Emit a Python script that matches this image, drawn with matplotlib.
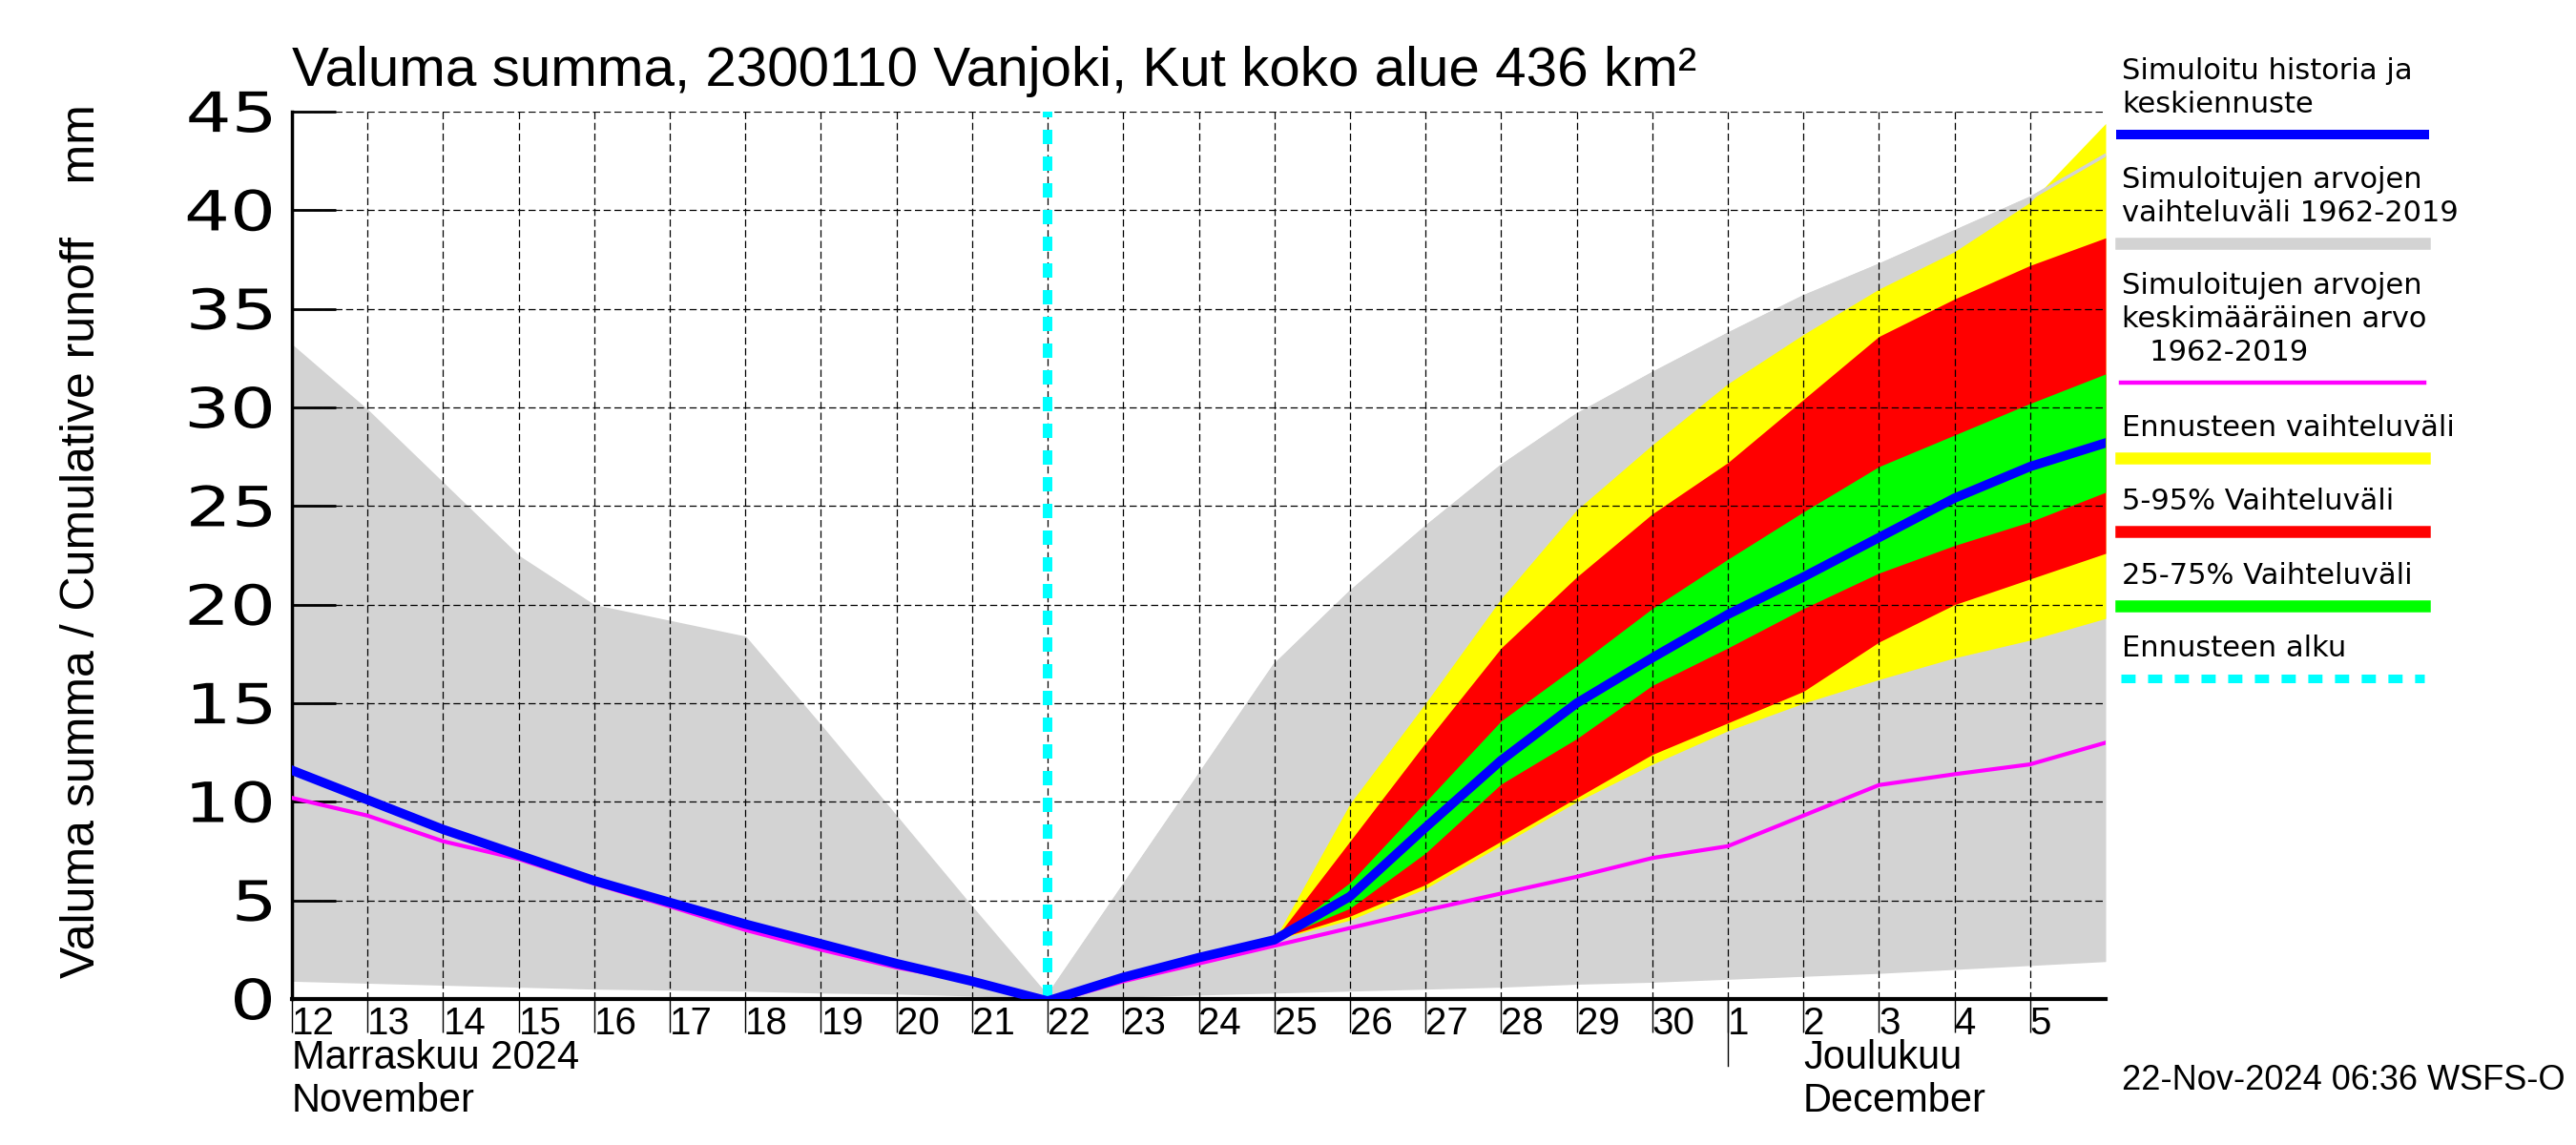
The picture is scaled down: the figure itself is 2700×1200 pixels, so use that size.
import numpy as np
import pandas as pd
import matplotlib
matplotlib.use('Agg')
import matplotlib.pyplot as plt
from matplotlib.transforms import blended_transform_factory, ScaledTranslation, Affine2D
from matplotlib.textpath import TextPath
from matplotlib.patches import PathPatch
from matplotlib.font_manager import FontProperties

# daily values, 12 Nov 2024 ... 6 Dec 2024
dates = pd.date_range('2024-11-12', '2024-12-06', freq='D')
day_labels = ['12', '13', '14', '15', '16', '17', '18', '19', '20', '21', '22', '23',
              '24', '25', '26', '27', '28', '29', '30', '1', '2', '3', '4', '5']
y_ticks = [0, 5, 10, 15, 20, 25, 30, 35, 40, 45]

# simulated range 1962-2019
grey_hi = [33.1, 29.8, 26.1, 22.4, 19.9, 19.1, 18.3, 13.8, 9.2, 4.6, 0.1, 5.7, 11.3,
           16.9, 20.6, 23.9, 27.0, 29.6, 31.7, 33.7, 35.6, 37.2, 38.9, 40.6, 42.8]
grey_lo = [0.9, 0.8, 0.7, 0.6, 0.5, 0.45, 0.4, 0.3, 0.25, 0.15, 0.0, 0.1, 0.2,
           0.3, 0.4, 0.5, 0.6, 0.75, 0.85, 1.0, 1.15, 1.3, 1.5, 1.7, 1.9]
# simulated history + median forecast
blue = [11.6, 10.1, 8.6, 7.3, 6.0, 4.9, 3.8, 2.8, 1.8, 0.9, -0.1, 1.1, 2.1,
        3.0, 5.2, 8.7, 12.1, 15.0, 17.3, 19.5, 21.4, 23.4, 25.4, 27.0, 28.2]
# mean 1962-2019
magenta = [10.2, 9.3, 8.0, 7.1, 5.85, 4.7, 3.5, 2.5, 1.6, 0.9, -0.2, 0.9, 1.8,
           2.7, 3.6, 4.5, 5.35, 6.2, 7.15, 7.75, 9.3, 10.85, 11.4, 11.9, 13.0]

# forecast bands from 25 Nov
fc_dates = pd.date_range('2024-11-25', '2024-12-06', freq='D')
ens_max = [3.0, 9.9, 15.0, 20.3, 24.8, 28.1, 31.2, 33.7, 36.0, 37.9, 40.4, 44.4]
p95 = [3.0, 8.0, 13.0, 17.8, 21.4, 24.6, 27.2, 30.4, 33.6, 35.5, 37.2, 38.6]
p75 = [3.0, 5.9, 10.0, 14.1, 16.9, 19.8, 22.3, 24.7, 27.0, 28.6, 30.2, 31.7]
p25 = [3.0, 4.6, 7.4, 10.9, 13.2, 15.9, 17.8, 19.8, 21.6, 23.0, 24.2, 25.7]
p05 = [3.0, 4.2, 5.8, 8.0, 10.2, 12.4, 14.0, 15.6, 18.1, 20.0, 21.3, 22.6]
ens_min = [3.0, 4.0, 5.6, 7.8, 10.0, 11.9, 13.6, 15.0, 16.2, 17.3, 18.2, 19.3]

forecast_start = pd.Timestamp('2024-11-22')

NARROW = ['Liberation Sans Narrow', 'Liberation Sans', 'DejaVu Sans']
WIDE = ['DejaVu Sans']

W, H = 2700, 1200
ax_rect = [306 / W, 153 / H, 1901 / W, 930 / H]

fig = plt.figure(figsize=(27, 12), dpi=100)
ax = fig.add_axes(ax_rect)

ax.fill_between(dates, grey_lo, grey_hi, color='#d3d3d3', lw=0, zorder=1)
ax.plot(dates, grey_hi, color='#d3d3d3', lw=2.5, zorder=1.05)
ax.fill_between(fc_dates, ens_min, ens_max, color='#ffff00', lw=0, zorder=1.1)
ax.fill_between(fc_dates, p05, p95, color='#ff0000', lw=0, zorder=1.15)
ax.fill_between(fc_dates, p25, p75, color='#00ff00', lw=0, zorder=1.2)
ax.plot(dates[10:], grey_hi[10:], color='#d3d3d3', lw=2.5, zorder=1.3)

ax.axvline(forecast_start, color='#00ffff', lw=7.2, dashes=(1.5, 1.3), zorder=3)
ax.plot(dates, magenta, color='#ff00ff', lw=3, zorder=3.5)
ax.plot(dates, blue, color='#0000ff', lw=7, zorder=4)

ax.set_xlim(dates[0], dates[-1])
ax.set_ylim(0, 45)
ax.set_yticks(y_ticks)
ax.set_xticks(dates[:-1])
ax.set_xticklabels(day_labels, ha='left')
offset = ScaledTranslation(4 / 100, 0, fig.dpi_scale_trans)
for lab in ax.get_xticklabels():
    lab.set_transform(lab.get_transform() + offset)
    lab.set_family(NARROW)
    lab.set_fontsize(29)

ax.tick_params(axis='x', direction='out', length=25, width=1, pad=-20)
ax.tick_params(axis='y', direction='in', length=33, width=2, labelleft=False)
ax.grid(True, color='black', lw=0.9, linestyle=(0, (6, 3)))

for s in ['top', 'right']:
    ax.spines[s].set_visible(False)
ax.spines['left'].set_linewidth(2.5)
ax.spines['bottom'].set_linewidth(3)

# y tick labels: wide, stretched digits drawn as paths (pixel units)
px = Affine2D().scale(1 / 100) + fig.dpi_scale_trans
em, sx = 58, 1.3
fp = FontProperties(family=WIDE)
for v in y_ticks:
    tp = TextPath((0, 0), str(v), size=em, prop=fp)
    ext = tp.get_extents()
    ypix = ax_rect[1] * H + v / 45 * ax_rect[3] * H
    tr = (Affine2D().translate(-ext.x1, -0.364 * em).scale(sx, 1)
          .translate(284, ypix) + px)
    fig.add_artist(PathPatch(tp, transform=tr, color='black', lw=0))

# month separator
trans = blended_transform_factory(ax.transData, ax.transAxes)
ax.plot([pd.Timestamp('2024-12-01')] * 2, [0, -0.075], transform=trans,
        color='black', lw=1, clip_on=False)

fig.text(306 / W, 0.925, 'Valuma summa, 2300110 Vanjoki, Kut koko alue 436 km²',
         family=NARROW, fontsize=42, va='baseline')
fig.text(0.032, 0.527, 'Valuma summa / Cumulative runoff    mm', rotation=90,
         family=NARROW, fontsize=36, ha='center', va='center')
fig.text(306 / W, 0.067, 'Marraskuu 2024', family=NARROW, fontsize=30, va='baseline')
fig.text(306 / W, 0.029, 'November', family=NARROW, fontsize=30, va='baseline')
fig.text(0.7, 0.067, 'Joulukuu', family=NARROW, fontsize=30, va='baseline')
fig.text(0.7, 0.029, 'December', family=NARROW, fontsize=30, va='baseline')
fig.text(0.8237, 0.048, '22-Nov-2024 06:36 WSFS-O', family=NARROW, fontsize=26,
         va='baseline')

# legend on the right
lx0, lx1 = 2223 / W, 2541 / W
entries = [
    (['Simuloitu historia ja', 'keskiennuste'], 141, '#0000ff', 7.2, None),
    (['Simuloitujen arvojen', 'vaihteluväli 1962-2019'], 255, '#d3d3d3', 9, None),
    (['Simuloitujen arvojen', 'keskimääräinen arvo', '   1962-2019'], 401, '#ff00ff', 3.2, None),
    (['Ennusteen vaihteluväli'], 480, '#ffff00', 9, None),
    (['5-95% Vaihteluväli'], 557, '#ff0000', 9, None),
    (['25-75% Vaihteluväli'], 635, '#00ff00', 9, None),
    (['Ennusteen alku'], 711, '#00ffff', 6.5, (1.65, 1.45)),
]
for lines, ly, col, lw, dash in entries:
    yfig = 1 - ly / H
    kw = {'dashes': dash} if dash else {}
    fig.add_artist(plt.Line2D([lx0, lx1], [yfig, yfig], color=col, lw=lw,
                              transform=fig.transFigure, **kw))
    for i, t in enumerate(reversed(lines)):
        base = ly - 23 - i * 35
        fig.text(lx0 + 0.0005, 1 - base / H, t, family=WIDE, fontsize=22,
                 va='baseline')

fig.savefig('out.png', dpi=100)
